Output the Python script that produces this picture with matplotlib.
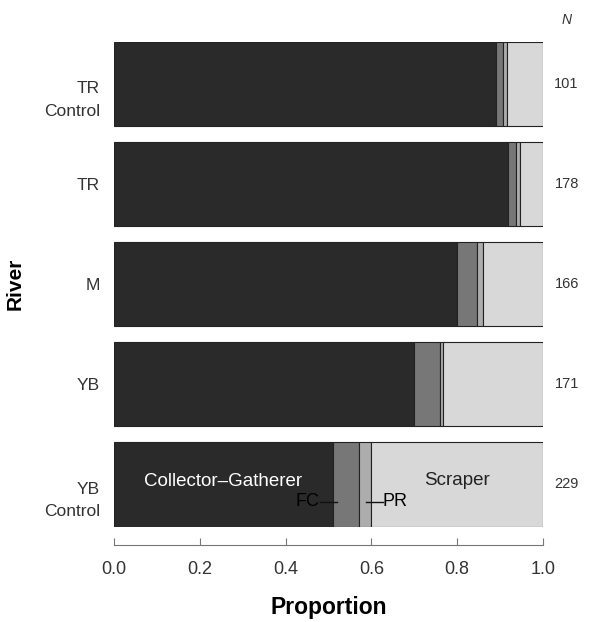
import matplotlib
matplotlib.use('Agg')
import matplotlib.pyplot as plt
import matplotlib.transforms as mtrans
import numpy as np

plt.rcParams['font.family'] = ['Liberation Sans', 'DejaVu Sans']

rivers = ['TR\nControl', 'TR', 'M', 'YB', 'YB\nControl']
n_counts = [101, 178, 166, 171, 229]
collector = [0.891, 0.918, 0.800, 0.700, 0.510]
filterer = [0.015, 0.020, 0.046, 0.060, 0.060]
predator = [0.010, 0.009, 0.013, 0.008, 0.029]
scraper = [1 - c - f - p for c, f, p in zip(collector, filterer, predator)]

groups = [collector, filterer, predator, scraper]
colours = ['#2a2a2a', '#777777', '#adadad', '#d8d8d8']

fig = plt.figure(figsize=(5.92, 6.22), dpi=100)
ax = fig.add_axes([114 / 592, 1 - 526.5 / 622, 429 / 592, 484.5 / 622])

ypos = np.arange(len(rivers))[::-1]
left = np.zeros(len(rivers))
for vals, col in zip(groups, colours):
    ax.barh(ypos, vals, left=left, height=0.84, color=col,
            edgecolor='#222222', linewidth=0.8)
    left = left + np.array(vals)

ax.set_xlim(0, 1)
ax.set_ylim(-0.42, 4.42)

for s in ['top', 'right', 'left']:
    ax.spines[s].set_visible(False)
ax.spines['bottom'].set_position(('outward', 13.3))
ax.spines['bottom'].set_color('#777777')
ax.spines['bottom'].set_linewidth(0.8)

ax.set_yticks(ypos)
ax.set_yticklabels(rivers, fontsize=12.5, color='#333333', linespacing=1.65)
ax.tick_params(axis='y', length=0, pad=10)
up = mtrans.ScaledTranslation(0, 2 / 72, fig.dpi_scale_trans)
for lab in ax.get_yticklabels():
    lab.set_horizontalalignment('right')
    if '\n' in lab.get_text():
        lab.set_verticalalignment('top')
        lab.set_transform(lab.get_transform() + up)

ax.set_xticks([0, 0.2, 0.4, 0.6, 0.8, 1.0])
ax.set_xticklabels(['0.0', '0.2', '0.4', '0.6', '0.8', '1.0'])
ax.tick_params(axis='x', direction='in', length=5, width=0.8, color='#777777',
               pad=11.5, labelsize=13, labelcolor='#333333')

ax.set_xlabel('Proportion', fontsize=16.5, fontweight='bold', labelpad=13)
ax.set_ylabel('River', fontsize=15, fontweight='bold', labelpad=14)

# N column
for y, n in zip(ypos, n_counts):
    ax.text(1.055, y, str(n), fontsize=10.5, color='#333333', ha='center', va='center')
ax.text(1.055, 4.64, 'N', fontsize=10, style='italic', color='#333333', ha='center', va='center')

# labels in bottom bar
yb = ypos[-1]
c0 = collector[-1]
f0 = filterer[-1]
p0 = predator[-1]
ax.text(c0 / 2, yb + 0.03, 'Collector\u2013Gatherer', color='white', fontsize=13.5, ha='center', va='center')
ax.text(c0 + f0 + p0 + scraper[-1] / 2, yb + 0.04, 'Scraper', color='#222222', fontsize=13.5, ha='center', va='center')
ax.plot([c0 - 0.03, c0 + 0.01], [yb - 0.18, yb - 0.18], color='#111111', lw=1.0)
ax.text(c0 - 0.032, yb - 0.17, 'FC', fontsize=13, color='#000000', ha='right', va='center')
ax.plot([c0 + f0 + 0.017, c0 + f0 + 0.057], [yb - 0.18, yb - 0.18], color='#111111', lw=1.0)
ax.text(c0 + f0 + 0.057, yb - 0.17, 'PR', fontsize=13, color='#000000', ha='left', va='center')

fig.savefig('out.png', dpi=100)
